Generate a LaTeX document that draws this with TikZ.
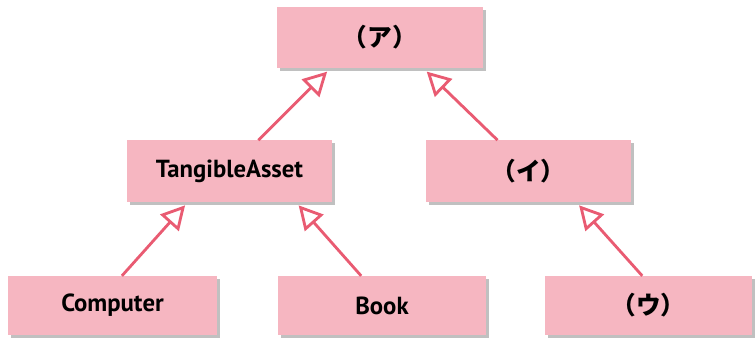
\documentclass[tikz,border=0pt]{standalone}
\usepackage{fontspec}
\setmainfont{PT Sans}
\newfontfamily\jpfont{Noto Sans CJK JP}
\usetikzlibrary{arrows.meta,calc,shadows}
\definecolor{boxpink}{HTML}{F6B6C1}
\definecolor{linkred}{HTML}{E95B72}
% 1 unit = 0.85pt
\tikzset{
  classbox/.style={rectangle, fill=boxpink, draw=none,
    minimum width=175pt, minimum height=52pt, inner sep=0pt,
    font=\fontsize{21}{24}\selectfont\bfseries,
    drop shadow={shadow xshift=2.5pt, shadow yshift=-2.5pt, fill=black!45, opacity=.55}},
  jp/.style={font=\fontsize{21}{24}\selectfont\jpfont\bfseries},
  inherit/.style={draw=linkred, line width=2.4pt, shorten >=4pt,
    -{Triangle[open, length=20pt, width=21pt, fill=white]}},
}
\begin{document}
\begin{tikzpicture}[x=0.85pt, y=-0.85pt]
  \useasboundingbox (0,0) rectangle (755,338);
  % class boxes
  \node[classbox, jp] (top)  at (380,37.5) {（ア）};
  \node[classbox] (tan)  at (229.5,171) {TangibleAsset};
  \node[classbox, jp] (ii)   at (528.5,171) {（イ）};
  \node[classbox, minimum height=50pt, minimum width=177.6pt] (comp) at (112.5,305.5) {Computer};
  \node[classbox, minimum height=50pt, minimum width=176.8pt] (book) at (382,305.5) {Book};
  \node[classbox, jp, minimum height=50pt, minimum width=176pt] (uu)   at (648.5,305.5) {（ウ）};
  % generalisation links
  \draw[inherit] ($(comp.north west)!0.545!(comp.north east)$) -- ($(tan.south west)!0.30!(tan.south east)$);
  \draw[inherit] ($(book.north west)!0.40!(book.north east)$) -- ($(tan.south west)!0.82!(tan.south east)$);
  \draw[inherit] ($(uu.north west)!0.47!(uu.north east)$) -- ($(ii.south west)!0.73!(ii.south east)$);
  \draw[inherit] ($(tan.north west)!0.64!(tan.north east)$) -- ($(top.south west)!0.26!(top.south east)$);
  \draw[inherit] ($(ii.north west)!0.35!(ii.north east)$) -- ($(top.south west)!0.71!(top.south east)$);
\end{tikzpicture}
\end{document}
